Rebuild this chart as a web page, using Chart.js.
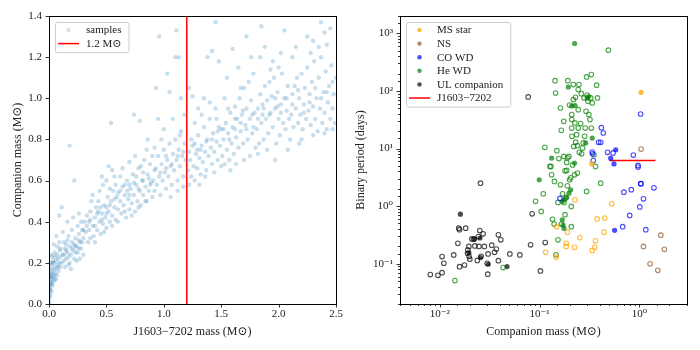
<!DOCTYPE html>
<html>
<head>
<meta charset="utf-8">
<script src="https://cdn.jsdelivr.net/npm/chart.js@4.4.0/dist/chart.umd.min.js"></script>
<style>
    body { margin: 0; background: #fff; }
    .panel { position: absolute; top: 0; width: 350px; height: 350px; }
</style>
</head>
<body>
<div class="panel" style="left:0"><canvas id="massChart" width="350" height="350"></canvas></div>
<div class="panel" style="left:350px"><canvas id="periodChart" width="350" height="350"></canvas></div>
<script>
// left panel: posterior samples [J1603-7202 mass, companion mass]
const samplePoints = [
    [0.002,0.01],[0.004,0.03],[0.005,0.05],[0.008,0.07],[0.01,0.09],[0.012,0.11],[0.006,0.13],[0.015,0.1],[0.02,0.12],[0.018,0.15],
    [0.025,0.14],[0.03,0.17],[0.022,0.19],[0.035,0.13],[0.04,0.16],[0.045,0.2],[0.05,0.18],[0.055,0.15],[0.06,0.21],[0.065,0.17],
    [0.07,0.24],[0.075,0.19],[0.08,0.22],[0.085,0.16],[0.09,0.2],[0.095,0.26],[0.1,0.23],[0.01,0.04],[0.014,0.07],[0.03,0.09],
    [0.04,0.11],[0.028,0.23],[0.015,0.2],[0.05,0.25],[0.06,0.12],[0.003,0.08],[0.008,0.17],[0.02,0.06],[0.1,0.18],[0.11,0.2],
    [0.07,0.14],[0.04,0.29],[0.02,0.24],[0.065,0.33],[0.09,0.3],[0.012,0.15],[0.025,0.1],[0.045,0.14],[0.035,0.21],[0.055,0.23],
    [0.12,0.24],[0.13,0.21],[0.14,0.27],[0.15,0.22],[0.16,0.25],[0.17,0.19],[0.18,0.28],[0.19,0.24],[0.2,0.3],[0.21,0.26],
    [0.22,0.22],[0.23,0.32],[0.24,0.28],[0.25,0.25],[0.26,0.34],[0.27,0.3],[0.28,0.27],[0.29,0.36],[0.3,0.32],[0.12,0.35],
    [0.14,0.18],[0.16,0.31],[0.18,0.2],[0.2,0.36],[0.22,0.29],[0.24,0.21],[0.26,0.27],[0.28,0.4],[0.3,0.24],[0.15,0.29],
    [0.17,0.33],[0.19,0.17],[0.21,0.42],[0.23,0.25],[0.25,0.38],[0.27,0.22],[0.11,0.47],[0.09,0.43],[0.18,0.77],[0.22,0.6],
    [0.16,0.4],[0.13,0.3],[0.26,0.44],[0.29,0.3],[0.32,0.35],[0.34,0.3],[0.35,0.4],[0.36,0.45],[0.38,0.38],[0.39,0.33],
    [0.4,0.42],[0.41,0.47],[0.42,0.36],[0.43,0.5],[0.44,0.4],[0.45,0.34],[0.46,0.44],[0.47,0.39],[0.48,0.48],[0.49,0.42],
    [0.5,0.37],[0.51,0.52],[0.52,0.45],[0.53,0.4],[0.54,0.5],[0.55,0.43],[0.56,0.55],[0.57,0.47],[0.58,0.41],[0.59,0.52],
    [0.6,0.46],[0.33,0.43],[0.37,0.5],[0.4,0.3],[0.44,0.55],[0.48,0.35],[0.5,0.6],[0.52,0.67],[0.55,0.65],[0.58,0.58],
    [0.6,0.4],[0.35,0.36],[0.45,0.47],[0.53,0.56],[0.57,0.62],[0.38,0.53],[0.42,0.44],[0.47,0.58],[0.5,0.47],[0.55,0.38],
    [0.6,0.54],[0.54,0.88],[0.46,0.62],[0.31,0.4],[0.36,0.32],[0.62,0.5],[0.63,0.44],[0.64,0.57],[0.65,0.48],[0.66,0.53],
    [0.67,0.42],[0.68,0.6],[0.69,0.51],[0.7,0.46],[0.71,0.56],[0.72,0.49],[0.73,0.63],[0.74,0.53],[0.75,0.45],[0.76,0.58],
    [0.77,0.5],[0.78,0.66],[0.79,0.55],[0.8,0.48],[0.81,0.6],[0.82,0.53],[0.83,0.7],[0.84,0.57],[0.85,0.5],[0.86,0.63],
    [0.87,0.55],[0.88,0.68],[0.89,0.59],[0.9,0.52],[0.64,0.66],[0.7,0.69],[0.75,0.72],[0.8,0.67],[0.85,0.75],[0.9,0.72],
    [0.66,0.45],[0.72,0.43],[0.78,0.47],[0.84,0.5],[0.74,0.92],[0.79,0.89],[0.68,0.55],[0.76,0.62],[0.82,0.6],[0.88,0.58],
    [0.62,0.62],[0.7,0.58],[0.86,0.8],[0.91,0.6],[0.92,0.55],[0.93,0.66],[0.94,0.58],[0.95,0.72],[0.96,0.62],[0.97,0.53],
    [0.98,0.68],[0.99,0.6],[1.0,0.75],[1.01,0.64],[1.02,0.56],[1.03,0.7],[1.04,0.62],[1.05,0.78],[1.06,0.67],[1.07,0.58],
    [1.08,0.73],[1.09,0.65],[1.1,0.8],[1.11,0.7],[1.12,0.6],[1.13,0.75],[1.14,0.67],[1.15,0.84],[1.16,0.72],[1.17,0.62],
    [1.18,0.78],[1.19,0.7],[0.93,1.05],[0.96,1.3],[1.1,1.2],[1.11,1.33],[1.03,1.12],[1.05,1.03],[0.95,0.9],[1.0,0.85],
    [1.08,0.9],[1.15,1.0],[1.18,0.92],[1.13,1.2],[0.98,0.8],[1.06,0.52],[1.12,0.55],[1.17,0.57],[0.92,0.76],[1.02,0.66],
    [1.14,0.82],[1.21,0.65],[1.22,0.58],[1.23,0.7],[1.24,0.62],[1.25,0.77],[1.26,0.67],[1.27,0.6],[1.28,0.73],[1.29,0.66],
    [1.3,0.82],[1.31,0.71],[1.32,0.63],[1.33,0.77],[1.34,0.69],[1.35,0.86],[1.36,0.74],[1.37,0.65],[1.38,0.8],[1.39,0.72],
    [1.4,0.9],[1.41,0.76],[1.42,0.68],[1.43,0.83],[1.44,0.74],[1.45,0.95],[1.46,0.79],[1.47,0.7],[1.48,0.86],[1.49,0.77],
    [1.5,0.67],[1.22,1.05],[1.25,1.01],[1.3,0.95],[1.35,1.0],[1.38,1.2],[1.42,1.23],[1.45,1.37],[1.48,1.18],[1.27,0.88],
    [1.33,0.92],[1.4,0.98],[1.24,0.8],[1.31,0.58],[1.36,0.62],[1.44,0.64],[1.5,0.85],[1.29,0.75],[1.46,0.9],[1.51,0.72],
    [1.52,0.8],[1.53,0.68],[1.54,0.88],[1.55,0.75],[1.56,0.83],[1.57,0.7],[1.58,0.93],[1.59,0.78],[1.6,0.86],[1.61,0.73],
    [1.62,0.96],[1.63,0.81],[1.64,0.9],[1.65,0.76],[1.66,1.0],[1.67,0.84],[1.68,0.92],[1.69,0.78],[1.7,1.05],[1.71,0.87],
    [1.72,0.95],[1.73,0.8],[1.74,1.08],[1.75,0.9],[1.76,0.99],[1.77,0.83],[1.78,1.12],[1.79,0.93],[1.8,0.76],[1.55,1.1],
    [1.6,1.24],[1.65,1.15],[1.72,1.3],[1.76,1.2],[1.58,0.65],[1.63,0.68],[1.7,0.7],[1.75,0.72],[1.53,1.0],[1.67,1.05],
    [1.78,0.86],[1.62,0.85],[1.69,0.94],[1.56,0.95],[1.81,0.85],[1.82,0.95],[1.83,0.78],[1.84,1.02],[1.85,0.88],[1.86,0.97],
    [1.87,0.8],[1.88,1.06],[1.89,0.9],[1.9,0.99],[1.91,0.83],[1.92,1.08],[1.93,0.93],[1.94,1.01],[1.95,0.86],[1.96,1.1],
    [1.97,0.95],[1.98,0.78],[1.99,1.03],[2.0,0.9],[2.01,0.82],[2.02,0.97],[2.03,1.12],[2.04,0.88],[2.05,1.0],[2.06,0.85],
    [2.07,0.94],[2.08,1.06],[2.09,0.9],[2.1,0.8],[1.84,1.2],[1.88,1.25],[1.95,1.18],[1.85,1.35],[2.05,1.33],[2.0,1.15],
    [1.82,0.73],[1.9,0.75],[1.97,0.7],[2.08,0.75],[1.93,1.14],[2.02,1.22],[1.86,0.92],[1.99,0.96],[2.11,0.92],[2.12,1.02],
    [2.13,0.86],[2.14,1.06],[2.15,0.95],[2.16,1.1],[2.17,0.88],[2.18,1.0],[2.19,0.92],[2.2,1.12],[2.21,0.85],[2.22,0.97],
    [2.23,1.05],[2.24,0.9],[2.25,1.15],[2.26,0.94],[2.27,1.02],[2.28,0.87],[2.29,1.08],[2.3,0.96],[2.31,1.18],[2.32,0.9],
    [2.33,1.0],[2.34,0.84],[2.35,1.1],[2.36,0.95],[2.37,1.2],[2.38,0.88],[2.39,1.03],[2.4,0.93],[2.41,1.13],[2.42,0.85],
    [2.43,0.98],[2.44,1.06],[2.45,0.9],[2.46,1.16],[2.47,0.95],[2.48,1.02],[2.49,0.88],[2.5,1.1],[2.15,1.25],[2.25,1.3],
    [2.3,1.28],[2.37,1.37],[2.4,1.32],[2.45,1.34],[2.35,1.25],[2.2,0.8],[2.3,0.82],[2.4,0.83],[2.47,0.85],[2.12,1.2],
    [2.28,1.22],[2.42,1.26],[2.18,0.78],
    [0.015,0.13],[0.03,0.2],[0.05,0.12],[0.07,0.28],[0.08,0.18],[0.1,0.27],[0.13,0.24],[0.15,0.26],[0.17,0.23],[0.2,0.27],
    [0.23,0.28],[0.26,0.31],[0.3,0.36],[0.33,0.38],[0.36,0.41],[0.4,0.38],[0.43,0.45],[0.46,0.41],[0.5,0.44],[0.53,0.48],
    [0.57,0.51],[0.62,0.55],[0.66,0.58],[0.7,0.53],[0.74,0.59],[0.78,0.56],[0.82,0.64],[0.87,0.61],[0.92,0.65],[0.97,0.64],
    [1.02,0.72],[1.07,0.68],[1.12,0.72],[1.17,0.74],[1.22,0.74],[1.27,0.78],[1.32,0.75],[1.37,0.79],[1.42,0.8],[1.47,0.84],
    [1.52,0.85],[1.57,0.8],[1.62,0.9],[1.67,0.88],[1.72,0.85],[1.77,0.92],[1.82,0.9],[1.87,0.95],[1.92,0.92],[1.97,1.0],
    [2.02,0.93],[2.07,1.0],[2.12,0.97],[2.17,1.04],[2.22,0.93],[2.27,0.98],[2.32,1.05],[2.37,1.0],[2.42,1.03],[2.47,1.08]
];
const massLimit = 1.2;
const massTicks = [0.0, 0.5, 1.0, 1.5, 2.0, 2.5];
const compTicks = [0.0, 0.2, 0.4, 0.6, 0.8, 1.0, 1.2, 1.4];

// right panel: known binaries [companion mass, binary period (days)]
const msOpen = [[0.115,0.158],[0.147,0.13],[0.148,0.44],[0.185,0.227],[0.185,0.2],[0.19,0.353],[0.224,0.193],[0.253,0.285],
    [0.337,0.17],[0.358,0.193],[0.364,0.25],[0.378,0.6],[0.442,0.353],[0.45,0.62],[0.528,1.1],[0.226,1.29]];
const msFilled = [[1.04,94.8],[0.333,5.4]];
const nsOpen = [[1.04,9.8],[1.64,0.313],[1.1,0.2],[1.78,0.178],[1.28,0.1],[1.53,0.077]];
const coOpen = [[1.03,39.8],[0.416,23],[0.435,18.6],[0.41,12.8],[0.48,8.6],[0.545,8.4],[0.87,7.7],[0.97,5.1],[0.97,4.77],
    [1.04,2.45],[1.03,2.45],[1.4,2.08],[0.7,1.75],[0.83,1.93],[1.1,1.34],[1.01,0.97],[0.8,0.69],[0.68,0.44],[1.16,0.39],
    [0.39,12.8],[0.337,8.7],[0.345,6.2],[0.16,1.36],[0.34,8.1]];
const coFilled = [[0.58,9.5],[0.516,6.8],[0.557,5.4],[0.565,0.38]];
const heOpen = [[0.0142,0.051],[0.0432,0.0858],[0.0912,1.21],[0.104,0.81],[0.109,1.64],[0.113,10.5],[0.127,4.9],[0.132,3.5],
    [0.13,4.9],[0.135,0.59],[0.14,0.49],[0.141,2.69],[0.143,151],[0.145,92],[0.146,0.143],[0.149,9.2],[0.153,1.16],[0.153,0.26],
    [0.156,6.7],[0.162,2.35],[0.162,50.6],[0.165,20.7],[0.166,0.49],[0.17,1.64],[0.175,29.7],[0.175,7.3],[0.176,1.16],[0.18,0.71],
    [0.183,1.38],[0.187,5.74],[0.187,4.17],[0.19,2.26],[0.192,151],[0.197,7.3],[0.2,2.87],[0.205,3.1],[0.208,0.99],[0.208,0.44],
    [0.21,38.8],[0.21,31.8],[0.21,22.7],[0.211,16.3],[0.214,5.2],[0.218,129],[0.218,70.8],[0.22,10.9],[0.224,3.5],[0.226,27.8],
    [0.229,77.6],[0.235,17.4],[0.239,11.2],[0.239,3.75],[0.244,106],[0.244,47.3],[0.244,22.7],[0.248,129],[0.25,8.6],[0.258,27.1],
    [0.262,89.8],[0.264,8.1],[0.274,12.5],[0.279,75.6],[0.283,16.3],[0.287,22.7],[0.292,44.4],[0.296,175],[0.296,1.8],[0.3,85],
    [0.305,66],[0.312,38.8],[0.32,31.8],[0.325,75.6],[0.33,192],[0.33,22.7],[0.337,62],[0.351,7.8],[0.364,4.9],[0.373,126],
    [0.38,75.6],[0.41,2.5],[0.489,510],[0.2,57],[0.18,4.1],[0.19,6.9],[0.23,12.9],[0.27,10.2]];
const heFilled = [[0.2245,666],[0.0993,2.87],[0.132,6.84],[0.194,117],[0.3,75],[0.31,80],[0.227,55.6],[0.337,15.2],[0.29,12.5],
    [0.224,5.6],[0.176,1.29],[0.187,1.43],[0.197,1.68],[0.205,1.92],[0.169,1.2],[0.169,0.58],[0.172,0.47],[0.176,0.41],[0.21,55]];
const ulOpen = [[0.00805,0.0648],[0.0096,0.063],[0.01055,0.070],[0.01055,0.133],[0.011,0.102],[0.0138,0.1425],[0.0152,0.227],
    [0.0155,0.414],[0.0158,0.39],[0.0182,0.414],[0.0158,0.089],[0.0177,0.095],[0.0191,0.174],[0.0196,0.2],[0.019,0.152],
    [0.0197,0.133],[0.02,0.12],[0.0219,0.267],[0.0225,0.204],[0.0244,0.297],[0.0247,0.2],[0.0252,0.377],[0.0238,0.114],
    [0.0272,0.33],[0.028,0.2],[0.0299,0.102],[0.0303,0.066],[0.0305,0.148],[0.0332,0.21],[0.0354,0.158],[0.0369,0.18],
    [0.0387,0.113],[0.0387,0.318],[0.0409,0.26],[0.0504,0.148],[0.0635,0.142],[0.0769,78.6],[0.0256,2.5],[0.0813,0.213],
    [0.0843,0.735],[0.102,0.075],[0.114,0.233],[0.021,0.27],[0.026,0.135]];
const ulFilled = [[0.0161,0.725],[0.0472,0.0894],[0.0223,0.27],[0.0253,0.28],[0.0196,0.155],[0.0256,0.128],[0.0306,0.098]];
const j1603Mass = [0.5, 1.45];
const j1603Period = 6.2;

const serif = "'Liberation Serif', 'DejaVu Serif', serif";
const tickFont = { family: serif, size: 11 };
const titleFont = { family: serif, size: 12 };

const colors = {
    ms: "rgba(255,165,0,0.75)",
    ns: "rgba(139,69,19,0.65)",
    co: "rgba(0,0,255,0.7)",
    he: "rgba(0,128,0,0.7)",
    ul: "rgba(0,0,0,0.7)",
    sample: "rgba(31,119,180,0.24)",
};

function isDecade(v) {
    const l = Math.log10(v);
    return Math.abs(l - Math.round(l)) < 1e-6;
}

const superDigits = { "-": "⁻", "0": "⁰", "1": "¹", "2": "²", "3": "³", "4": "⁴" };
function powLabel(v) {
    const e = String(Math.round(Math.log10(v)));
    return "10" + e.split("").map(c => superDigits[c]).join("");
}

// black frame and outward tick marks, matplotlib style
const frameTicks = {
    id: "frameTicks",
    afterDraw(chart) {
        const { ctx, chartArea: a, scales } = chart;
        ctx.save();
        ctx.strokeStyle = "#000";
        ctx.lineWidth = 0.8;
        for (const t of scales.x.ticks) {
            const major = scales.x.type !== "logarithmic" || isDecade(t.value);
            const px = Math.round(scales.x.getPixelForValue(t.value)) + 0.5;
            ctx.beginPath();
            ctx.moveTo(px, a.bottom);
            ctx.lineTo(px, a.bottom + (major ? 3.5 : 2));
            ctx.stroke();
        }
        for (const t of scales.y.ticks) {
            const major = scales.y.type !== "logarithmic" || isDecade(t.value);
            const py = Math.round(scales.y.getPixelForValue(t.value)) + 0.5;
            ctx.beginPath();
            ctx.moveTo(a.left, py);
            ctx.lineTo(a.left - (major ? 3.5 : 2), py);
            ctx.stroke();
        }
        ctx.lineWidth = 1;
        ctx.strokeRect(Math.round(a.left) + 0.5, Math.round(a.top) + 0.5,
            Math.round(a.right - a.left), Math.round(a.bottom - a.top));
        ctx.restore();
    },
};

// legend box drawn inside the plot area, top left
const boxLegend = {
    id: "boxLegend",
    afterDatasetsDraw(chart, args, opts) {
        const { ctx, chartArea: a } = chart;
        const items = opts.items || [];
        const x = a.left + 6, y = a.top + 6;
        const rowH = 13.6;
        ctx.save();
        ctx.font = "11px " + serif;
        let textW = 0;
        for (const it of items) textW = Math.max(textW, ctx.measureText(it.label).width);
        const w = 38 + textW, h = items.length * rowH + 3;
        ctx.fillStyle = "rgba(255,255,255,0.85)";
        ctx.strokeStyle = "#cccccc";
        ctx.lineWidth = 1;
        ctx.beginPath();
        ctx.roundRect(x + 0.5, y + 0.5, w, h, 2);
        ctx.fill();
        ctx.stroke();
        items.forEach((it, i) => {
            const cy = y + 8 + i * rowH;
            if (it.kind === "line") {
                ctx.strokeStyle = it.color;
                ctx.lineWidth = 1.5;
                ctx.beginPath();
                ctx.moveTo(x + 3, cy);
                ctx.lineTo(x + 24, cy);
                ctx.stroke();
            } else {
                ctx.fillStyle = it.color;
                ctx.beginPath();
                ctx.arc(x + 13.5, cy, 2.2, 0, Math.PI * 2);
                ctx.fill();
            }
            ctx.fillStyle = "#222";
            ctx.textBaseline = "middle";
            ctx.fillText(it.label, x + 31, cy + 0.5);
        });
        ctx.restore();
    },
};

function pts(list) {
    return list.map(p => ({ x: p[0], y: p[1] }));
}

new Chart("massChart", {
    type: "scatter",
    data: {
        datasets: [
            {
                label: "samples",
                data: pts(samplePoints),
                backgroundColor: colors.sample,
                borderWidth: 0,
                pointRadius: 2.2,
            },
            {
                label: "1.2 M⊙",
                type: "line",
                data: [{ x: massLimit, y: 0 }, { x: massLimit, y: 1.4 }],
                borderColor: "red",
                borderWidth: 1.5,
                pointRadius: 0,
            },
        ],
    },
    options: {
        responsive: false,
        animation: false,
        devicePixelRatio: 1,
        layout: { padding: { top: 16, right: 14, left: 0, bottom: 0 } },
        plugins: {
            legend: { display: false },
            tooltip: { enabled: false },
            boxLegend: {
                items: [
                    { label: "samples", kind: "dot", color: "rgba(31,119,180,0.2)" },
                    { label: "1.2 M⊙", kind: "line", color: "red" },
                ],
            },
        },
        scales: {
            x: {
                type: "linear",
                min: 0,
                max: 2.5,
                grid: { display: false, drawTicks: false },
                border: { display: false },
                afterBuildTicks: (s) => { s.ticks = massTicks.map(v => ({ value: v })); },
                afterFit: (s) => { s.height = 46; },
                ticks: { font: tickFont, color: "#222", padding: 4, maxRotation: 0,
                    callback: (v) => Number(v).toFixed(1) },
                title: { display: true, text: "J1603−7202 mass (M⊙)", font: titleFont, color: "#222",
                    padding: { top: 0, bottom: 11 } },
            },
            y: {
                type: "linear",
                min: 0,
                max: 1.4,
                grid: { display: false, drawTicks: false },
                border: { display: false },
                afterBuildTicks: (s) => { s.ticks = compTicks.map(v => ({ value: v })); },
                afterFit: (s) => { s.width = 49; },
                ticks: { font: tickFont, color: "#222", padding: 7,
                    callback: (v) => Number(v).toFixed(1) },
                title: { display: true, text: "Companion mass (M⊙)", font: titleFont, color: "#222",
                    padding: { top: 11, bottom: 0 } },
            },
        },
    },
    plugins: [frameTicks, boxLegend],
});

function openSet(label, list, color) {
    return { label, data: pts(list), backgroundColor: "rgba(0,0,0,0)", borderColor: color,
        borderWidth: 1.1, pointRadius: 2.3 };
}
function filledSet(label, list, color) {
    return { label, data: pts(list), backgroundColor: color, borderColor: color,
        borderWidth: 0, pointRadius: 2.6 };
}

new Chart("periodChart", {
    type: "scatter",
    data: {
        datasets: [
            openSet("MS star", msOpen, colors.ms),
            filledSet("MS star", msFilled, colors.ms),
            openSet("NS", nsOpen, colors.ns),
            openSet("CO WD", coOpen, colors.co),
            filledSet("CO WD", coFilled, colors.co),
            openSet("He WD", heOpen, colors.he),
            filledSet("He WD", heFilled, colors.he),
            openSet("UL companion", ulOpen, colors.ul),
            filledSet("UL companion", ulFilled, colors.ul),
            {
                label: "J1603−7202",
                type: "line",
                data: j1603Mass.map(m => ({ x: m, y: j1603Period })),
                borderColor: "red",
                borderWidth: 1.5,
                pointRadius: 0,
            },
        ],
    },
    options: {
        responsive: false,
        animation: false,
        devicePixelRatio: 1,
        layout: { padding: { top: 16, right: 13, left: 0, bottom: 0 } },
        plugins: {
            legend: { display: false },
            tooltip: { enabled: false },
            boxLegend: {
                items: [
                    { label: "MS star", kind: "dot", color: colors.ms },
                    { label: "NS", kind: "dot", color: colors.ns },
                    { label: "CO WD", kind: "dot", color: colors.co },
                    { label: "He WD", kind: "dot", color: colors.he },
                    { label: "UL companion", kind: "dot", color: colors.ul },
                    { label: "J1603−7202", kind: "line", color: "red" },
                ],
            },
        },
        scales: {
            x: {
                type: "logarithmic",
                min: 0.004,
                max: 3,
                grid: { display: false, drawTicks: false },
                border: { display: false },
                afterFit: (s) => { s.height = 46; },
                ticks: { font: tickFont, color: "#222", padding: 4, autoSkip: false, maxRotation: 0,
                    callback: (v) => isDecade(v) ? powLabel(v) : "" },
                title: { display: true, text: "Companion mass (M⊙)", font: titleFont, color: "#222",
                    padding: { top: 0, bottom: 11 } },
            },
            y: {
                type: "logarithmic",
                min: 0.02,
                max: 2000,
                grid: { display: false, drawTicks: false },
                border: { display: false },
                afterFit: (s) => { s.width = 50; },
                ticks: { font: tickFont, color: "#222", padding: 7, autoSkip: false,
                    callback: (v) => isDecade(v) ? powLabel(v) : "" },
                title: { display: true, text: "Binary period (days)", font: titleFont, color: "#222",
                    padding: { top: 4, bottom: 0 } },
            },
        },
    },
    plugins: [frameTicks, boxLegend],
});
</script>
</body>
</html>
